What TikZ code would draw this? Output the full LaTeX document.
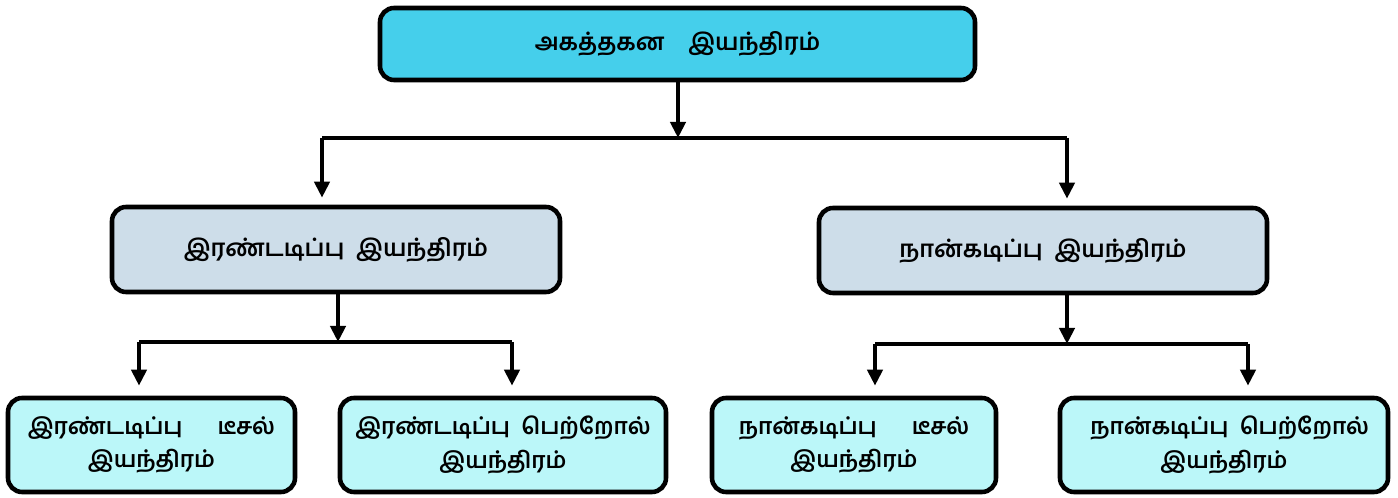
\documentclass[tikz,border=0pt]{standalone}
\usepackage{fontspec}
\newfontfamily\tamilfont[Script=Tamil]{Hind Madurai}
\usetikzlibrary{positioning,arrows.meta}

\definecolor{topcyan}{HTML}{45CFEB}
\definecolor{midgrey}{HTML}{CDDDE9}
\definecolor{leafcyan}{HTML}{BBF7F9}

\tikzset{
    box/.style={draw=black, line width=2.6pt, rounded corners=8pt, align=center,
        font=\tamilfont\bfseries\fontsize{13.5}{24}\selectfont},
    topbox/.style={box, fill=topcyan, minimum width=11.9cm, minimum height=1.44cm},
    midbox/.style={box, fill=midgrey, minimum width=8.96cm, minimum height=1.7cm},
    leafbox/.style={box, fill=leafcyan, minimum height=1.88cm, inner xsep=0pt,
        font=\tamilfont\bfseries\fontsize{13}{19}\selectfont},
    link/.style={line width=2.3pt},
    arrowlink/.style={link, -{Triangle[length=0.32cm,width=0.3cm]}}
}

\begin{document}
\begin{tikzpicture}
    \useasboundingbox (0,0) rectangle (27.96,9.96);

    % Draw the main box
    \node[topbox] (engine) at (13.55,9.08) {அகத்தகன\quad இயந்திரம்};

    % Draw the two stroke and four stroke boxes
    \node[midbox] (twostroke) at (6.72,4.97) {இரண்டடிப்பு\enspace இயந்திரம்};
    \node[midbox] (fourstroke) at (20.86,4.95) {நான்கடிப்பு\enspace இயந்திரம்};

    % Draw the leaf boxes
    \node[leafbox, minimum width=5.74cm] (twodiesel) at (3.03,1.06) {இரண்டடிப்பு\hspace{0.7cm}டீசல்\\இயந்திரம்};
    \node[leafbox, minimum width=6.52cm] (twopetrol) at (10.06,1.06) {இரண்டடிப்பு\enspace பெற்றோல்\\இயந்திரம்};
    \node[leafbox, minimum width=5.68cm] (fourdiesel) at (17.08,1.06) {நான்கடிப்பு\hspace{0.7cm}டீசல்\\இயந்திரம்};
    \node[leafbox, minimum width=6.56cm] (fourpetrol) at (24.48,1.06) {\enspace நான்கடிப்பு\enspace பெற்றோல்\\இயந்திரம்};

    % Define the branch points
    \coordinate (split) at (13.56,7.2);
    \coordinate (splitL) at (6.44,7.2);
    \coordinate (splitR) at (21.34,7.2);
    \coordinate (twosplit) at (6.76,3.12);
    \coordinate (twoL) at (2.78,3.12);
    \coordinate (twoR) at (10.24,3.12);
    \coordinate (foursplit) at (21.34,3.08);
    \coordinate (fourL) at (17.5,3.08);
    \coordinate (fourR) at (24.96,3.08);

    % Draw the first level
    \draw[arrowlink] (engine.south -| split) -- (split);
    \draw[link] (splitL) -- (splitR);
    \draw[arrowlink, shorten >=0.14cm] (splitL) -- (splitL |- twostroke.north);
    \draw[arrowlink, shorten >=0.14cm] (splitR) -- (splitR |- fourstroke.north);

    % Draw the two stroke branch
    \draw[arrowlink] (twostroke.south -| twosplit) -- (twosplit);
    \draw[link] (twoL) -- (twoR);
    \draw[arrowlink, shorten >=0.2cm] (twoL) -- (twoL |- twodiesel.north);
    \draw[arrowlink, shorten >=0.2cm] (twoR) -- (twoR |- twopetrol.north);

    % Draw the four stroke branch
    \draw[arrowlink] (fourstroke.south -| foursplit) -- (foursplit);
    \draw[link] (fourL) -- (fourR);
    \draw[arrowlink, shorten >=0.2cm] (fourL) -- (fourL |- fourdiesel.north);
    \draw[arrowlink, shorten >=0.2cm] (fourR) -- (fourR |- fourpetrol.north);

\end{tikzpicture}
\end{document}
